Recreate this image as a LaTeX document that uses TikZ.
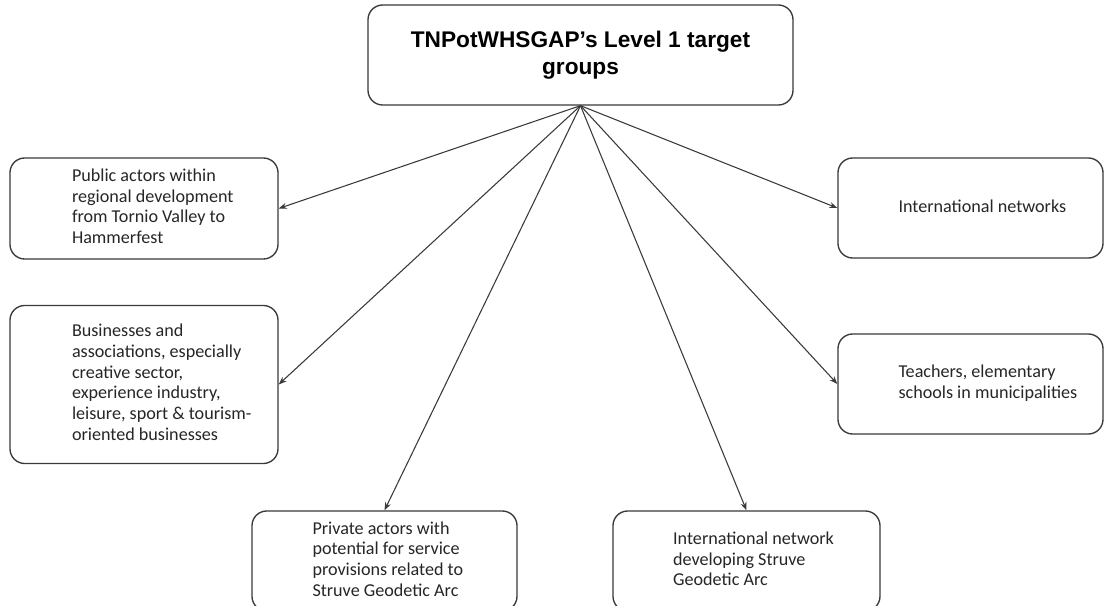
\documentclass[tikz,border=0pt]{standalone}
\usepackage{fontspec}
\setmainfont{Carlito}
\newfontfamily\titlefont{Liberation Sans}
\usetikzlibrary{arrows.meta}
\definecolor{edge}{HTML}{3A3A3A}
\definecolor{txt}{HTML}{262626}
% left-aligned block of lines, placed in a box of given width (text starts at its left)
\newcommand{\leftlines}[2]{\makebox[#1][l]{\begin{tabular}{@{}l@{}}#2\end{tabular}}}
\tikzset{
  tbox/.style={draw=edge, line width=1pt, rounded corners=11pt, fill=white,
    text=txt, inner sep=0pt,
    font=\fontsize{13.6}{15.5}\selectfont},
  titlebox/.style={draw=edge, line width=1pt, rounded corners=11pt, fill=white,
    align=center, text=black, inner sep=0pt,
    font=\titlefont\fontsize{17}{20}\selectfont\bfseries},
  link/.style={draw=edge, line width=0.8pt, -{Stealth[length=6pt,width=4.5pt]}}
}
\begin{document}
\begin{tikzpicture}[x=0.75pt,y=-0.75pt]
\useasboundingbox (0,0) rectangle (1104,606);
\clip (0,0) rectangle (1104,606);
\fill[white] (0,0) rectangle (1104,606);

\node[titlebox, minimum width=318.75pt, minimum height=75pt] (top) at (580.5,55)
  {TNPotWHSGAP’s Level 1 target\\groups};

\node[tbox, minimum width=201pt, minimum height=75.75pt] (pub) at (144,208.5)
  {\leftlines{108pt}{Public actors within\\regional development\\from Tornio Valley to\\Hammerfest}};

\node[tbox, minimum width=201pt, minimum height=118.5pt] (bus) at (144,384.5)
  {\leftlines{108pt}{Businesses and\\associations, especially\\creative sector,\\experience industry,\\leisure, sport \& tourism-\\oriented businesses}};

\node[tbox, minimum width=198.75pt, minimum height=75pt] (inet) at (970.5,208)
  {\leftlines{108pt}{International networks}};

\node[tbox, minimum width=198.75pt, minimum height=75pt] (teach) at (970.5,384)
  {\leftlines{108pt}{Teachers, elementary\\schools in municipalities}};

\node[tbox, minimum width=198.75pt, minimum height=75pt] (priv) at (384.5,561)
  {\leftlines{108pt}{Private actors with\\potential for service\\provisions related to\\Struve Geodetic Arc}};

\node[tbox, minimum width=200.25pt, minimum height=75pt] (idev) at (746.5,561)
  {\leftlines{110pt}{International network\\developing Struve\\Geodetic Arc}};

\draw[link] (top.south) -- (pub.east);
\draw[link] (top.south) -- (bus.east);
\draw[link] (top.south) -- (priv.north);
\draw[link] (top.south) -- (idev.north);
\draw[link] (top.south) -- (teach.west);
\draw[link] (top.south) -- (inet.west);
\end{tikzpicture}
\end{document}
